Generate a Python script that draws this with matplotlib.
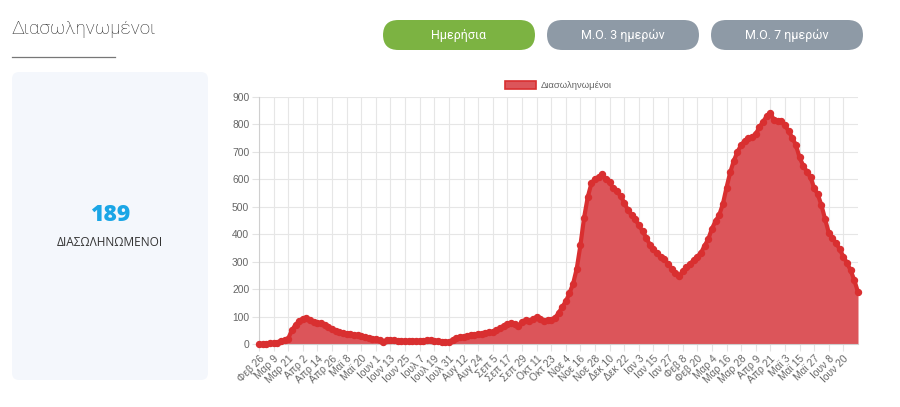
import numpy as np
import matplotlib
matplotlib.use("Agg")
import matplotlib.pyplot as plt
from matplotlib.patches import FancyBboxPatch, Patch
from matplotlib.lines import Line2D

# values read every 3 days, starting Feb 26 2020
step_days = 3
intubated = [
    0, 0, 1, 2, 3, 5, 12, 15, 20, 50,
    70, 84, 92, 93, 88, 80, 77, 75, 70, 62,
    54, 47, 43, 40, 38, 37, 34, 31, 28, 25,
    23, 20, 17, 13, 9, 13, 15, 14, 12, 11,
    12, 10, 12, 11, 12, 10, 13, 14, 12, 11,
    9, 8, 8, 14, 22, 25, 27, 30, 32, 34,
    36, 38, 40, 42, 44, 50, 58, 66, 72, 76,
    74, 66, 80, 87, 84, 90, 98, 92, 85, 86,
    89, 95, 112, 135, 155, 185, 220, 275, 360, 460,
    535, 585, 603, 607, 618, 600, 590, 567, 556, 540,
    515, 488, 470, 455, 432, 412, 388, 362, 345, 330,
    318, 308, 292, 275, 258, 248, 265, 280, 292, 305,
    318, 332, 358, 382, 420, 448, 470, 510, 570, 625,
    668, 700, 725, 740, 750, 755, 765, 790, 810, 830,
    842, 816, 812, 814, 798, 775, 752, 725, 680, 650,
    628, 608, 568, 545, 505, 455, 405, 385, 368, 345,
    318, 295, 268, 232, 189,
]
tick_labels = [
    "Φεβ 26", "Μαρ 9", "Μαρ 21", "Απρ 2", "Απρ 14", "Απρ 26", "Μαϊ 8",
    "Μαϊ 20", "Ιουν 1", "Ιουν 13", "Ιουν 25", "Ιουλ 7", "Ιουλ 19",
    "Ιουλ 31", "Αυγ 12", "Αυγ 24", "Σεπ 5", "Σεπ 17", "Σεπ 29", "Οκτ 11",
    "Οκτ 23", "Νοε 4", "Νοε 16", "Νοε 28", "Δεκ 10", "Δεκ 22", "Ιαν 3",
    "Ιαν 15", "Ιαν 27", "Φεβ 8", "Φεβ 20", "Μαρ 4", "Μαρ 16", "Μαρ 28",
    "Απρ 9", "Απρ 21", "Μαϊ 3", "Μαϊ 15", "Μαϊ 27", "Ιουν 8", "Ιουν 20",
]
tick_every = 12
latest_value = 189

W, H = 900, 407
fig = plt.figure(figsize=(W / 100, H / 100), dpi=100)
fig.patch.set_facecolor("white")


def fx(x):
    return x / W


def fy(y):
    return 1 - y / H


# header
fig.text(fx(11), fy(29), "Διασωληνωμένοι", fontsize=13.5, color="#2a2a2a",
         family="Roboto", fontweight="light", va="center", ha="left")
fig.add_artist(Line2D([fx(12), fx(115)], [fy(57), fy(57)], color="#777777", lw=0.9))

buttons = [("Ημερήσια", 383, "#7cb342"), ("Μ.Ο. 3 ημερών", 547, "#8e9aa6"),
           ("Μ.Ο. 7 ημερών", 711, "#8e9aa6")]
for txt, bx, col in buttons:
    fig.add_artist(FancyBboxPatch((fx(bx), fy(50)), fx(152), 30 / H,
                                  boxstyle="round,pad=0,rounding_size=0.017",
                                  transform=fig.transFigure, fc=col, ec="none",
                                  mutation_aspect=W / H))
    fig.text(fx(bx + 76), fy(35), txt, color="white", fontsize=9, family="Roboto",
             ha="center", va="center")

# left info panel
fig.add_artist(FancyBboxPatch((fx(12), fy(380)), fx(196), 308 / H,
                              boxstyle="round,pad=0,rounding_size=0.008",
                              transform=fig.transFigure, fc="#f4f7fc", ec="none",
                              mutation_aspect=W / H))
fig.text(fx(110), fy(215), str(latest_value), color="#1ba6e6", fontsize=16.5,
         family="Open Sans", fontweight="heavy", ha="center", va="center")
fig.text(fx(110), fy(243), "ΔΙΑΣΩΛΗΝΩΜΕΝΟΙ", color="#333333", fontsize=8.6,
         family="Open Sans", ha="center", va="center")

# main chart
ax = fig.add_axes([fx(259), fy(344), fx(858 - 259), (344 - 97) / H])
days = np.arange(len(intubated)) * step_days
ax.fill_between(days, intubated, 0, color="#dc555a", lw=0, zorder=2)
ax.plot(days, intubated, color="#d92f30", lw=3.0, marker="o", ms=4.3,
        mec="#d92f30", mfc="#d92f30", zorder=3, solid_joinstyle="round",
        clip_on=False)

ax.set_xlim(0, days[-1])
ax.set_ylim(0, 900)
ax.set_yticks(range(0, 901, 100))
ticks = np.arange(len(tick_labels)) * tick_every
ax.set_xticks(ticks)
ax.set_xticklabels(tick_labels, rotation=45, ha="right", rotation_mode="anchor")
for lab in ax.get_xticklabels() + ax.get_yticklabels():
    lab.set_family("Liberation Sans")
    lab.set_fontsize(7.4)
    lab.set_color("#666666")
ax.tick_params(axis="both", length=5, color="#e3e3e3", pad=2)
ax.grid(True, color="#e6e6e6", lw=0.8, zorder=0)
ax.set_axisbelow(True)
for s in ["top", "right"]:
    ax.spines[s].set_visible(False)
for s in ["left", "bottom"]:
    ax.spines[s].set_color("#cfcfcf")
    ax.spines[s].set_linewidth(0.8)

handle = Patch(facecolor="#dc555a", edgecolor="#d92f30", linewidth=1.2)
leg = ax.legend([handle], ["Διασωληνωμένοι"], loc="lower center",
                bbox_to_anchor=(0.5, 1.0), frameon=False, fontsize=6.8,
                handlelength=3.3, handleheight=1.0, handletextpad=0.5,
                borderaxespad=0.3)
for t in leg.get_texts():
    t.set_color("#666666")
    t.set_family("Liberation Sans")

fig.savefig("out.png", dpi=100)
